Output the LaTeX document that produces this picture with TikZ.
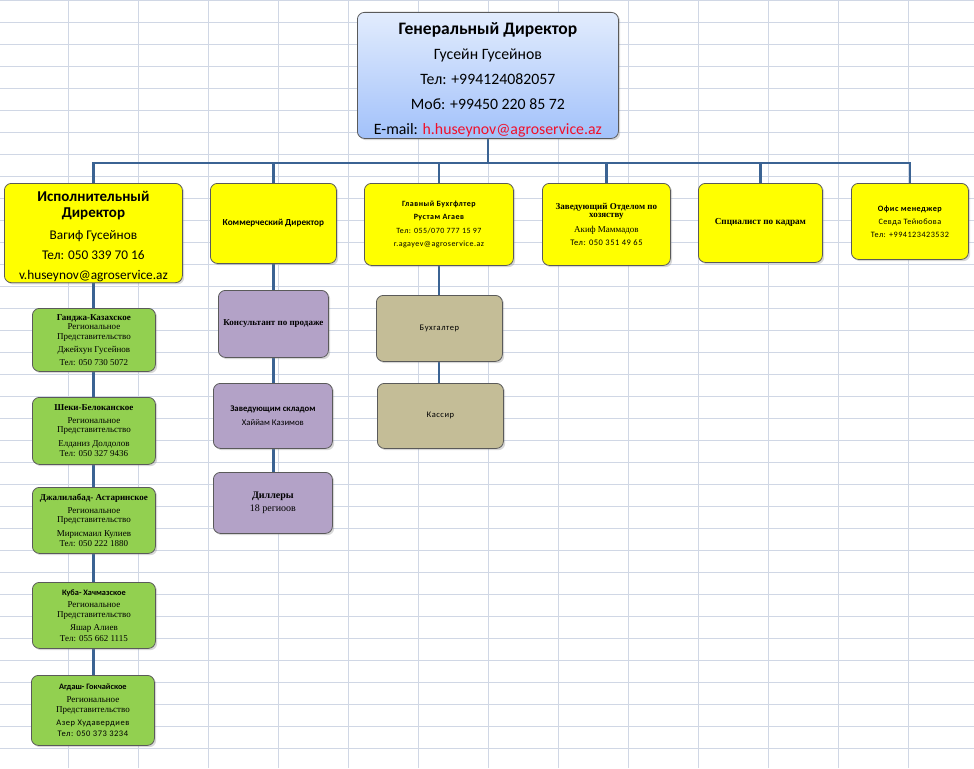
\documentclass[tikz,border=0pt]{standalone}
\usepackage{fontspec}
\setmainfont{Liberation Serif}
\setsansfont{Carlito}
\newfontfamily\spacedsf{Carlito}[LetterSpace=6]
\usetikzlibrary{shadows,backgrounds}

\definecolor{gridgray}{HTML}{D0D7E5}
\definecolor{busblue}{HTML}{3B6393}
\definecolor{boxline}{HTML}{5A5A5A}
\definecolor{yelfill}{HTML}{FFFF00}
\definecolor{grnfill}{HTML}{92D050}
\definecolor{vlfill}{HTML}{B3A2C7}
\definecolor{khfill}{HTML}{C4BD97}
\definecolor{topA}{HTML}{E2ECFD}
\definecolor{topB}{HTML}{A2C1FA}
\definecolor{mailred}{HTML}{F0102A}

\begin{document}
\begin{tikzpicture}[x=1pt, y=-1pt,
    main/.style = {draw=boxline, line width=0.8pt, rounded corners=7pt, align=center, anchor=north west, inner sep=1pt,
                   drop shadow={opacity=0.3, shadow xshift=1.8pt, shadow yshift=-1.8pt}},
    chief/.style = {main, top color=topA, bottom color=topB, font=\sffamily\fontsize{15.8}{25}\selectfont},
    yellowbox/.style = {main, fill=yelfill},
    greenbox/.style = {main, fill=grnfill, minimum width=123pt, font=\fontsize{9}{10}\selectfont},
    violetbox/.style = {main, fill=vlfill},
    khakibox/.style = {main, fill=khfill, minimum width=126pt, minimum height=66pt, font=\spacedsf\fontsize{8.5}{10}\selectfont},
    link/.style = {draw=busblue, line width=2.6pt}]

    \useasboundingbox (0,0) rectangle (974,768);
    \begin{scope}[on background layer]
        \fill[white] (0,0) rectangle (974,768);
        \foreach \x in {68,138,...,908} \draw[gridgray, line width=0.9pt] (\x,0) -- (\x,768);
        \foreach \y in {0.5,22.5,...,768} \draw[gridgray, line width=0.9pt] (0,\y) -- (974,\y);
    \end{scope}

    % general director
    \node[chief, minimum width=261pt, minimum height=126pt](0) at (357,12)
        {\rule{0pt}{20pt}{\bfseries\fontsize{17.5}{25}\selectfont Генеральный Директор}\\ Гусейн Гусейнов\\ Тел: +994124082057\\
         Моб: +99450 220 85 72\\ E-mail: \textcolor{mailred}{h.huseynov@agroservice.az}};

    % second level
    \node[yellowbox, minimum width=178pt, minimum height=99pt, font=\sffamily\fontsize{13.3}{20}\selectfont](1) at (4,183)
        {\rule{0pt}{17pt}{\bfseries\fontsize{15}{16}\selectfont Исполнительный}\\[-4pt] {\bfseries\fontsize{15}{16}\selectfont Директор}\\[2pt]
         Вагиф Гусейнов\\ Тел: 050 339 70 16\\ v.huseynov@agroservice.az};
    \node[yellowbox, minimum width=126pt, minimum height=80pt, font=\sffamily\bfseries\fontsize{9.2}{10}\selectfont](2) at (210,183)
        {Коммерческий Директор};
    \node[yellowbox, minimum width=149pt, minimum height=82pt, font=\spacedsf\fontsize{8}{13.3}\selectfont](3) at (364,183)
        {{\bfseries Главный Бухгфлтер}\\ {\bfseries Рустам Агаев}\\ Тел: 055/070 777 15 97\\ r.agayev@agroservice.az};
    \node[yellowbox, minimum width=128pt, minimum height=82pt, font=\fontsize{9}{13.5}\selectfont](4) at (542,183)
        {{\bfseries Заведующий Отделом по}\\[-5.5pt] {\bfseries хозяству}\\[1pt] Акиф Маммадов\\[-0.5pt] {\spacedsf\fontsize{8.5}{10}\selectfont Тел: 050 351 49 65}};
    \node[yellowbox, minimum width=124pt, minimum height=79pt, font=\bfseries\fontsize{9.2}{11}\selectfont](5) at (698,183)
        {Спциалист по кадрам};
    \node[yellowbox, minimum width=117pt, minimum height=76pt, font=\spacedsf\fontsize{8.2}{13}\selectfont](6) at (851,183)
        {{\bfseries Офис менеджер}\\ Севда Тейюбова\\ Тел: +994123423532};

    % regional offices
    \node[greenbox, minimum height=63pt](1a) at (32,308)
        {{\bfseries Ганджа-Казахское}\\[-1pt] Региональное\\ Представительство\\[3pt] Джейхун Гусейнов\\[3pt] Тел: 050 730 5072};
    \node[greenbox, minimum height=67pt](1b) at (32,397)
        {{\bfseries Шеки-Белоканское}\\[2.5pt] Региональное\\[-0.5pt] Представительство\\[3.5pt] Елданиз Долдолов\\[0.5pt] Тел: 050 327 9436};
    \node[greenbox, minimum height=66pt](1c) at (32,487)
        {{\bfseries Джалилабад- Астаринское}\\[2.5pt] Региональное\\[-0.5pt] Представительство\\[3.5pt] Мирисмаил Кулиев\\[0.5pt] Тел: 050 222 1880};
    \node[greenbox, minimum height=66pt](1d) at (32,582)
        {{\sffamily\bfseries\fontsize{8.3}{10}\selectfont Куба- Хачмазское}\\[2.5pt] Региональное\\[-0.5pt] Представительство\\[3.5pt] Яшар Алиев\\[0.5pt] Тел: 055 662 1115};
    \node[greenbox, minimum height=70pt](1e) at (31,675)
        {{\sffamily\bfseries\fontsize{8.3}{10}\selectfont Агдаш- Гокчайское}\\[3pt] Региональное\\[-0.5pt] Представительство\\[3.5pt]
         {\spacedsf\fontsize{8.5}{10}\selectfont Азер Худавердиев}\\[0.5pt] {\spacedsf\fontsize{8.5}{10}\selectfont Тел: 050 373 3234}};

    % sales
    \node[violetbox, minimum width=110pt, minimum height=67pt, font=\bfseries\fontsize{9}{11}\selectfont](2a) at (218,290)
        {Консультант по продаже};
    \node[violetbox, minimum width=119pt, minimum height=65pt, font=\sffamily\fontsize{8.7}{14}\selectfont](2b) at (213,383)
        {{\bfseries Заведующим складом}\\ Хаййам Казимов};
    \node[violetbox, minimum width=119pt, minimum height=61pt, font=\fontsize{10}{13}\selectfont](2c) at (213,472)
        {{\bfseries Диллеры}\\ 18 региоов};

    % accounting
    \node[khakibox](3a) at (376,295) {Бухгалтер};
    \node[khakibox, minimum height=65pt](3b) at (377,383) {Кассир};

    \coordinate (bus) at (0,163);
    \begin{scope}[on background layer]
        \draw[link] (0.south) -- (0.south |- bus);
        \draw[link] (1.north) -- (1.north |- bus) -- (6.north |- bus) -- (6.north);
        \foreach \n in {2,...,5} \draw[link] (\n.north |- bus) -- (\n.north);
        \draw[link] (1.south) -- (1.south |- 1e.north);
        \draw[link] (2.south) -- (2.south |- 2c.north);
        \draw[link] (3.south) -- (3.south |- 3b.north);
    \end{scope}
\end{tikzpicture}
\end{document}
